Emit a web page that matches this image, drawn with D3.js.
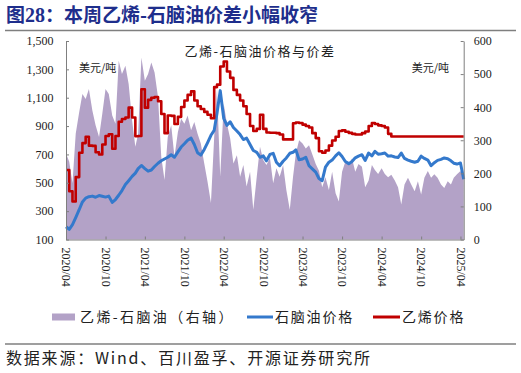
<!DOCTYPE html>
<html>
<head>
<meta charset="utf-8">
<script src="https://cdn.jsdelivr.net/npm/d3@7"></script>
<style>
  body { margin: 0; background: #fff; }
  svg { display: block; }
</style>
</head>
<body>
<div id="chart"></div>
<script>
// values every half month, starting 2020/04/01 (1st and 16th of each month)
const naphtha = [
  190,172,205,255,310,365,392,402,406,398,
  410,405,399,406,362,382,412,445,488,515,
  545,568,600,622,600,582,590,615,638,655,
  668,680,698,680,718,752,775,800,815,770,
  712,695,735,782,835,870,990,1150,955,905,
  930,890,865,840,805,815,770,728,715,680,
  690,655,700,708,645,620,652,675,708,715,
  732,662,668,680,620,598,575,530,515,610,
  645,660,690,712,685,650,635,650,676,688,
  698,658,710,690,722,702,705,710,688,690,
  682,678,710,672,660,652,645,652,688,672,
  660,620,642,658,665,675,670,655,638,632,
  640,525
];
const ethylene = [
  590,440,368,540,712,780,825,762,760,715,
  700,770,830,842,740,830,930,950,960,1030,
  960,828,830,1160,1030,1085,1100,1105,1075,985,
  850,975,972,915,965,1035,1080,1120,1145,1080,
  1040,1020,1000,980,955,1175,1192,1320,1355,1285,
  1240,1155,1120,1080,1040,985,900,865,880,980,
  880,855,853,853,850,841,806,806,806,920,
  925,922,910,900,890,850,815,722,712,728,
  762,798,825,865,870,860,852,845,841,841,
  850,862,900,922,915,905,900,890,845,826,
  826,826,826,826,826,826,826,826,826,826,
  826,826,826,826,826,826,826,826,826,826,
  826,826
];
const spread = [
  260,235,170,320,385,440,425,455,390,345,
  310,380,455,440,375,350,540,500,525,470,
  360,280,320,550,480,500,535,505,430,250,
  180,310,345,250,325,365,350,375,330,355,
  320,290,230,175,110,310,455,190,410,350,
  305,230,255,190,225,160,205,90,190,280,
  240,225,247,170,215,190,225,150,90,190,
  260,300,290,275,285,258,228,208,158,188,
  150,205,140,115,205,235,228,245,205,228,
  220,158,178,225,210,198,215,198,188,196,
  178,158,106,166,187,166,146,176,136,187,
  207,187,197,187,166,156,176,166,187,197,
  207,187
];
const xTickLabels = ["2020/04","2020/10","2021/04","2021/10","2022/04","2022/10",
  "2023/04","2023/10","2024/04","2024/10","2025/04"];
const leftTicks = [100,300,500,700,900,1100,1300,1500];
const rightTicks = [0,100,200,300,400,500,600];

function dateAt(i) {
  return new Date(2020, 3 + Math.floor(i / 2), i % 2 ? 16 : 1);
}

const width = 521, height = 373;
const plot = { left: 66, right: 463.7, top: 41, bottom: 239.5 };
const cjk = "'Noto Sans CJK SC', sans-serif";
const serif = "'Liberation Serif', 'Times New Roman', serif";

const svg = d3.select("#chart").append("svg")
  .attr("width", width)
  .attr("height", height);

// title
const title = svg.append("text")
  .attr("x", 6)
  .attr("y", 22)
  .style("font-family", cjk)
  .style("font-size", "19px")
  .style("font-weight", "bold")
  .style("fill", "#1e2e8c");
title.append("tspan").text("图");
title.append("tspan").style("font-family", serif).style("font-size", "20px").text("28");
title.append("tspan").text("：本周乙烯-石脑油价差小幅收窄");

svg.append("line")
  .attr("x1", 5).attr("x2", 516)
  .attr("y1", 30.5).attr("y2", 30.5)
  .attr("stroke", "#7f7f7f")
  .attr("stroke-width", 1.5);

// scales
const x = d3.scaleTime()
  .domain([dateAt(0), dateAt(naphtha.length - 1)])
  .range([plot.left, plot.right]);

const yL = d3.scaleLinear()
  .domain([100, 1500])
  .range([plot.bottom, plot.top]);

const yR = d3.scaleLinear()
  .domain([0, 600])
  .range([plot.bottom, plot.top]);

// spread area (right axis)
const area = d3.area()
  .x((d, i) => x(dateAt(i)))
  .y0(yR(0))
  .y1(d => yR(d));

svg.append("path")
  .datum(spread)
  .attr("d", area)
  .attr("fill", "#b3a2c7");

// price lines (left axis)
const line = d3.line()
  .x((d, i) => x(dateAt(i)))
  .y(d => yL(d));

svg.append("path")
  .datum(naphtha)
  .attr("d", line)
  .attr("fill", "none")
  .attr("stroke", "#3479cc")
  .attr("stroke-width", 3)
  .attr("stroke-linejoin", "round");

svg.append("path")
  .datum(ethylene)
  .attr("d", line.curve(d3.curveStepAfter))
  .attr("fill", "none")
  .attr("stroke", "#c00000")
  .attr("stroke-width", 2.6)
  .attr("stroke-linejoin", "round");

// axes
const parseMonth = d3.timeParse("%Y/%m");

const xAxis = svg.append("g")
  .attr("transform", `translate(0, ${plot.bottom})`)
  .call(d3.axisBottom(x)
    .tickValues(xTickLabels.map(parseMonth))
    .tickFormat(d3.timeFormat("%Y/%m"))
    .tickSize(-3)
    .tickSizeOuter(0));

xAxis.selectAll("text")
  .attr("transform", "rotate(90)")
  .attr("x", 8)
  .attr("y", 0)
  .attr("dy", "0.35em")
  .attr("text-anchor", "start");

const leftAxis = svg.append("g")
  .attr("transform", `translate(${plot.left}, 0)`)
  .call(d3.axisLeft(yL)
    .tickValues(leftTicks)
    .tickFormat(d3.format(","))
    .tickSize(-3)
    .tickSizeOuter(0)
    .tickPadding(12.5));

const rightAxis = svg.append("g")
  .attr("transform", `translate(${plot.right}, 0)`)
  .call(d3.axisRight(yR)
    .tickValues(rightTicks)
    .tickSize(-3)
    .tickSizeOuter(0)
    .tickPadding(10));

[xAxis, leftAxis, rightAxis].forEach(g => {
  g.select(".domain").attr("stroke", "#7f7f7f");
  g.selectAll(".tick line").attr("stroke", "#7f7f7f");
  g.selectAll("text")
    .style("font-family", serif)
    .style("font-size", "12px")
    .style("fill", "#222");
});

// in-plot labels
svg.append("text")
  .attr("x", 260)
  .attr("y", 56)
  .attr("text-anchor", "middle")
  .style("font-family", cjk)
  .style("font-size", "13px")
  .style("letter-spacing", "1.5px")
  .style("fill", "#222")
  .text("乙烯-石脑油价格与价差");

[[79, "start"], [449, "end"]].forEach(([px, anchor]) => {
  svg.append("text")
    .attr("x", px)
    .attr("y", 72)
    .attr("text-anchor", anchor)
    .style("font-family", cjk)
    .style("font-size", "11px")
    .style("fill", "#222")
    .text("美元/吨");
});

// legend
const legendY = 317;
const legend = svg.append("g");

legend.append("rect")
  .attr("x", 52).attr("y", legendY - 3.5)
  .attr("width", 23).attr("height", 7)
  .attr("fill", "#b3a2c7");

legend.append("line")
  .attr("x1", 247).attr("x2", 273)
  .attr("y1", legendY).attr("y2", legendY)
  .attr("stroke", "#3479cc").attr("stroke-width", 3);

legend.append("line")
  .attr("x1", 373).attr("x2", 400)
  .attr("y1", legendY).attr("y2", legendY)
  .attr("stroke", "#c00000").attr("stroke-width", 3);

[[80, "乙烯-石脑油（右轴）", "2.4px"], [275, "石脑油价格", "1.8px"], [402, "乙烯价格", "1.8px"]]
  .forEach(([px, label, gap]) => {
    legend.append("text")
      .attr("x", px)
      .attr("y", legendY + 5)
      .style("font-family", cjk)
      .style("font-size", "14px")
      .style("letter-spacing", gap)
      .style("fill", "#222")
      .text(label);
  });

// footer
svg.append("line")
  .attr("x1", 5).attr("x2", 516)
  .attr("y1", 344).attr("y2", 344)
  .attr("stroke", "#7f7f7f")
  .attr("stroke-width", 1.5);

svg.append("text")
  .attr("x", 6)
  .attr("y", 364)
  .style("font-family", cjk)
  .style("font-size", "16px")
  .style("letter-spacing", "1.8px")
  .style("fill", "#222")
  .text("数据来源：Wind、百川盈孚、开源证券研究所");
</script>
</body>
</html>
